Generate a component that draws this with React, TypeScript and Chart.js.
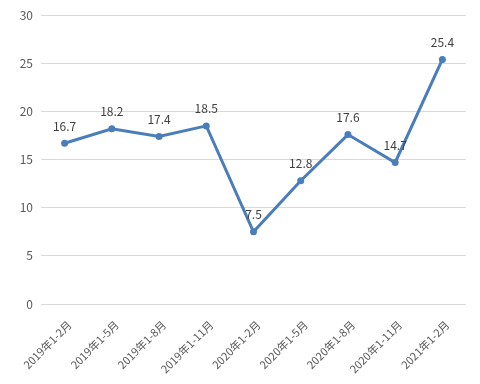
import React, { useEffect, useRef } from "react";
import { Chart, registerables } from "chart.js";

Chart.register(...registerables);

const categories = [
  "2019年1-2月",
  "2019年1-5月",
  "2019年1-8月",
  "2019年1-11月",
  "2020年1-2月",
  "2020年1-5月",
  "2020年1-8月",
  "2020年1-11月",
  "2021年1-2月",
];
const values = [16.7, 18.2, 17.4, 18.5, 7.5, 12.8, 17.6, 14.7, 25.4];
const yTicks = [0, 5, 10, 15, 20, 25, 30];

const FONT = "'Noto Sans CJK SC', 'Noto Sans', sans-serif";

const dataLabelPlugin = {
  id: "dataLabels",
  afterDatasetsDraw(chart: any) {
    const ctx = chart.ctx;
    const meta = chart.getDatasetMeta(0);
    ctx.save();
    ctx.font = `12px ${FONT}`;
    ctx.fillStyle = "#404040";
    ctx.textAlign = "center";
    ctx.textBaseline = "middle";
    meta.data.forEach((pt: any, i: number) => {
      ctx.fillText(String(values[i]), pt.x, pt.y - 17);
    });
    ctx.restore();
  },
};

export default function App() {
  const ref = useRef<HTMLCanvasElement | null>(null);
  useEffect(() => {
    document.body.style.margin = "0";
    const chart = new Chart(ref.current!, {
      type: "line",
      data: {
        labels: categories,
        datasets: [
          {
            data: values,
            borderColor: "#4a7ebb",
            backgroundColor: "#4a7ebb",
            borderWidth: 3,
            pointRadius: 3.5,
            pointBackgroundColor: "#4a7ebb",
            pointBorderWidth: 0,
            tension: 0,
          },
        ],
      },
      options: {
        animation: false,
        responsive: false,
        layout: { padding: { top: 15, right: 14, left: 0, bottom: 0 } },
        plugins: { legend: { display: false }, tooltip: { enabled: false } },
        scales: {
          x: {
            offset: true,
            grid: { display: false },
            border: { display: false },
            ticks: {
              color: "#595959",
              font: { family: FONT, size: 11 },
              maxRotation: 45,
              minRotation: 45,
              autoSkip: false,
              padding: 6,
              labelOffset: 5,
            },
            afterFit: (axis: any) => {
              axis.height = 80;
            },
          },
          y: {
            min: 0,
            max: 30,
            afterBuildTicks: (axis: any) => {
              axis.ticks = yTicks.map((v) => ({ value: v }));
            },
            grid: { color: "#d9d9d9", drawTicks: false, lineWidth: 1 },
            border: { display: false },
            ticks: {
              color: "#595959",
              font: { family: FONT, size: 12 },
              padding: 8,
            },
            afterFit: (axis: any) => {
              axis.width = 41;
            },
          },
        },
      },
      plugins: [dataLabelPlugin],
    });
    return () => chart.destroy();
  }, []);
  return <canvas ref={ref} width={480} height={384} style={{ display: "block" }} />;
}
